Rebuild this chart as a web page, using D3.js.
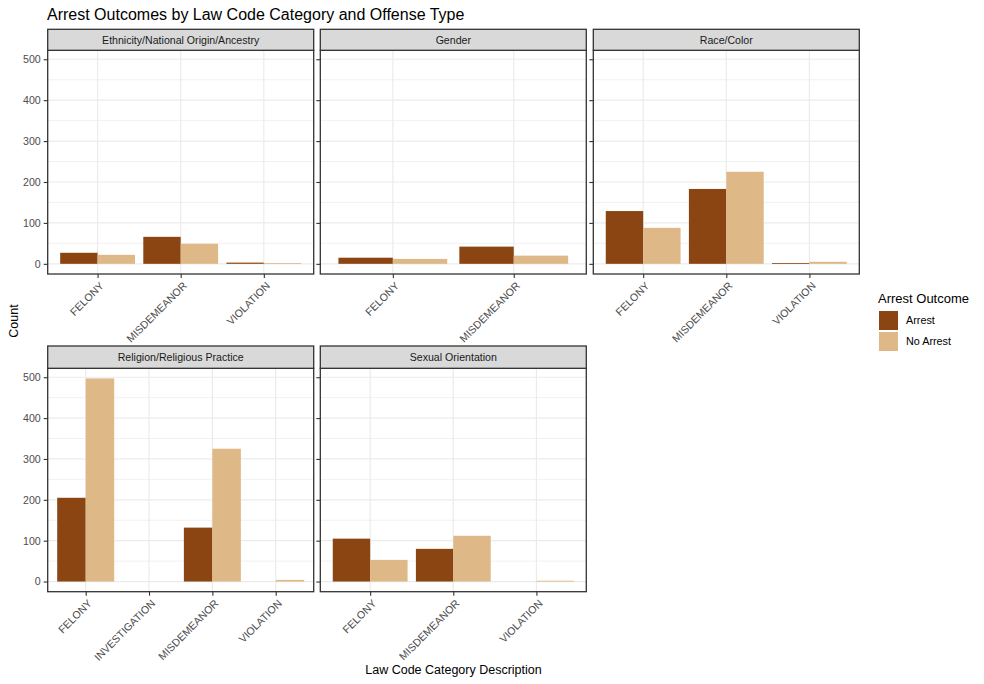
<!DOCTYPE html>
<html>
<head>
<meta charset="utf-8">
<script src="https://cdn.jsdelivr.net/npm/d3@7"></script>
<style>
  html, body { margin: 0; padding: 0; background: #fff; }
  svg { display: block; font-family: "Liberation Sans", Arial, sans-serif; }
</style>
</head>
<body>
<svg id="chart" width="984" height="684"></svg>
<script>
// ---- Data ----
const offenseTypes = ["Ethnicity/National Origin/Ancestry", "Gender", "Race/Color", "Religion/Religious Practice", "Sexual Orientation"];
const outcomes = ["Arrest", "No Arrest"];

const ethnicityCategories = ["FELONY", "MISDEMEANOR", "VIOLATION"];
const ethnicityArrest = [27, 66, 3];
const ethnicityNoArrest = [22, 49, 2];

const genderCategories = ["FELONY", "MISDEMEANOR"];
const genderArrest = [15, 42];
const genderNoArrest = [12, 20];

const raceCategories = ["FELONY", "MISDEMEANOR", "VIOLATION"];
const raceArrest = [129, 183, 2];
const raceNoArrest = [88, 225, 5];

const religionCategories = ["FELONY", "INVESTIGATION", "MISDEMEANOR", "VIOLATION"];
const religionArrest = [205, 0, 132, 0];
const religionNoArrest = [497, 0, 325, 4];

const sexualCategories = ["FELONY", "MISDEMEANOR", "VIOLATION"];
const sexualArrest = [105, 80, 0];
const sexualNoArrest = [53, 112, 2];

const yTicks = [0, 100, 200, 300, 400, 500];
const yMinorTicks = [50, 150, 250, 350, 450];

// build panel table
const panelCats = [ethnicityCategories, genderCategories, raceCategories, religionCategories, sexualCategories];
const panelArrest = [ethnicityArrest, genderArrest, raceArrest, religionArrest, sexualArrest];
const panelNoArrest = [ethnicityNoArrest, genderNoArrest, raceNoArrest, religionNoArrest, sexualNoArrest];
const panels = offenseTypes.map((name, i) => ({
  name,
  cats: panelCats[i],
  rows: panelCats[i].flatMap((c, j) => [
    { cat: c, outcome: outcomes[0], value: panelArrest[i][j] },
    { cat: c, outcome: outcomes[1], value: panelNoArrest[i][j] }
  ])
}));

// ---- Layout ----
const colX = [47.7, 320.3, 593.3];
const panelW = 266;
const rowsLayout = [
  { stripTop: 29.3, plotTop: 50.3, plotBottom: 274 },
  { stripTop: 346, plotTop: 368.3, plotBottom: 591.7 }
];
const color = d3.scaleOrdinal().domain(outcomes).range(["#8B4513", "#DEB887"]);

const svg = d3.select("#chart");

const maxVal = d3.max(panels, p => d3.max(p.rows, r => r.value));
const yDomain = [-0.05 * maxVal, maxVal * 1.05];

panels.forEach((p, i) => {
  const r = Math.floor(i / 3), c = i % 3;
  const L = rowsLayout[r];
  const x0 = colX[c];
  const g = svg.append("g");

  const x = d3.scalePoint().domain(p.cats).range([x0, x0 + panelW]).padding(0.6);
  const step = x.step();
  const half = step * 0.45;
  const y = d3.scaleLinear().domain(yDomain).range([L.plotBottom, L.plotTop]);

  // background
  g.append("rect").attr("x", x0).attr("y", L.plotTop).attr("width", panelW)
    .attr("height", L.plotBottom - L.plotTop).attr("fill", "#fff");

  // minor gridlines
  g.selectAll(".ymin").data(yMinorTicks).join("line")
    .attr("x1", x0).attr("x2", x0 + panelW)
    .attr("y1", d => y(d)).attr("y2", d => y(d))
    .attr("stroke", "#EBEBEB").attr("stroke-width", 0.7);
  // major gridlines
  g.selectAll(".ymaj").data(yTicks).join("line")
    .attr("x1", x0).attr("x2", x0 + panelW)
    .attr("y1", d => y(d)).attr("y2", d => y(d))
    .attr("stroke", "#EBEBEB").attr("stroke-width", 1.2);
  g.selectAll(".xmaj").data(p.cats).join("line")
    .attr("x1", d => x(d)).attr("x2", d => x(d))
    .attr("y1", L.plotTop).attr("y2", L.plotBottom)
    .attr("stroke", "#EBEBEB").attr("stroke-width", 1.2);

  // bars
  g.selectAll(".bar").data(p.rows.filter(d => d.value > 0)).join("rect")
    .attr("x", d => d.outcome === outcomes[0] ? x(d.cat) - half : x(d.cat))
    .attr("width", half)
    .attr("y", d => y(d.value))
    .attr("height", d => y(0) - y(d.value))
    .attr("fill", d => color(d.outcome));

  // panel border
  g.append("rect").attr("x", x0).attr("y", L.plotTop).attr("width", panelW)
    .attr("height", L.plotBottom - L.plotTop).attr("fill", "none")
    .attr("stroke", "#333333").attr("stroke-width", 1.3);

  // strip
  g.append("rect").attr("x", x0).attr("y", L.stripTop).attr("width", panelW)
    .attr("height", L.plotTop - L.stripTop).attr("fill", "#D9D9D9")
    .attr("stroke", "#333333").attr("stroke-width", 1.3);
  g.append("text").attr("x", x0 + panelW / 2).attr("y", (L.stripTop + L.plotTop) / 2)
    .attr("dy", "0.35em").attr("text-anchor", "middle")
    .attr("font-size", 10.6).attr("fill", "#1A1A1A").text(p.name);

  // x axis
  const xa = g.append("g").attr("transform", `translate(0,${L.plotBottom})`)
    .call(d3.axisBottom(x).tickSizeInner(4).tickSizeOuter(0).tickPadding(3));
  xa.select(".domain").remove();
  xa.selectAll(".tick line").attr("stroke", "#333333").attr("stroke-width", 1.1);
  xa.selectAll(".tick text")
    .attr("font-size", 10.6).attr("fill", "#4D4D4D")
    .attr("font-family", "Liberation Sans, Arial, sans-serif")
    .attr("text-anchor", "end")
    .attr("x", 0).attr("y", 0).attr("dy", "0.72em")
    .attr("transform", "translate(1,7) rotate(-45)");

  // y axis (left column only)
  const ya = g.append("g").attr("transform", `translate(${x0},0)`)
    .call(d3.axisLeft(y).tickValues(yTicks).tickSizeInner(4).tickSizeOuter(0).tickPadding(3));
  ya.select(".domain").remove();
  ya.selectAll(".tick line").attr("stroke", "#333333").attr("stroke-width", 1.1);
  if (c === 0) {
    ya.selectAll(".tick text").attr("font-size", 10.6).attr("fill", "#4D4D4D")
      .attr("font-family", "Liberation Sans, Arial, sans-serif");
  } else {
    ya.selectAll(".tick text").remove();
  }
});

// title
svg.append("text").attr("x", 47).attr("y", 20).attr("font-size", 16).attr("fill", "#000")
  .text("Arrest Outcomes by Law Code Category and Offense Type");

// axis titles
svg.append("text").attr("x", 453.5).attr("y", 674).attr("text-anchor", "middle")
  .attr("font-size", 12.5).attr("fill", "#000").text("Law Code Category Description");
svg.append("text").attr("transform", "translate(18,321) rotate(-90)").attr("text-anchor", "middle")
  .attr("font-size", 12.5).attr("fill", "#000").text("Count");

// legend
const lg = svg.append("g");
lg.append("text").attr("x", 878).attr("y", 303).attr("font-size", 13).attr("fill", "#000").text("Arrest Outcome");
outcomes.forEach((o, i) => {
  const ky = 311 + i * 21;
  lg.append("rect").attr("x", 879).attr("y", ky).attr("width", 19).attr("height", 19).attr("fill", color(o));
  lg.append("text").attr("x", 906).attr("y", ky + 9.5).attr("dy", "0.35em")
    .attr("font-size", 10.8).attr("fill", "#000").text(o);
});
</script>
</body>
</html>
